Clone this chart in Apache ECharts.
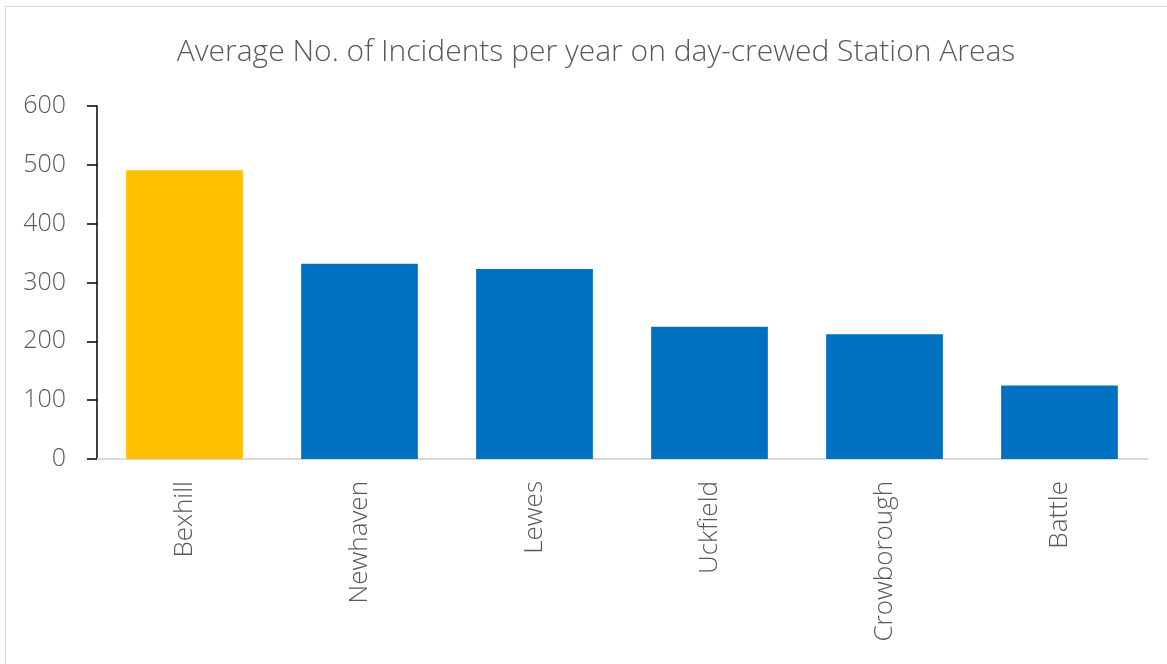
<!DOCTYPE html>
<html>
<head>
<meta charset="utf-8">
<script src="https://cdn.jsdelivr.net/npm/echarts@6/dist/echarts.min.js"></script>
<style>
html,body{margin:0;padding:0;background:#fff;}
#frame{position:absolute;left:5px;top:6px;width:1170px;height:670px;border:1px solid #d9d9d9;box-sizing:border-box;}
#chart{position:absolute;left:0;top:0;width:1167px;height:664px;}
</style>
</head>
<body>
<div id="frame"></div>
<div id="chart"></div>
<script>
const categories = ['Bexhill', 'Newhaven', 'Lewes', 'Uckfield', 'Crowborough', 'Battle'];
const incidents = [491, 332, 323, 225, 212, 125];
const highlighted = 'Bexhill';
const yTicks = [0, 100, 200, 300, 400, 500, 600];

const chart = echarts.init(document.getElementById('chart'), null, {renderer: 'canvas'});
const font = '"Open Sans", "Segoe UI", sans-serif';
chart.setOption({
  animation: false,
  title: {
    text: 'Average No. of Incidents per year on day-crewed Station Areas',
    left: 591, top: 32, textAlign: 'center',
    textStyle: {fontFamily: font, fontWeight: 300, fontSize: 30, color: '#595959'}
  },
  grid: {left: 97, right: 20, top: 106, bottom: 205},
  xAxis: {
    type: 'category',
    data: categories,
    axisLine: {lineStyle: {color: '#d9d9d9', width: 2}},
    axisTick: {show: false},
    axisLabel: {rotate: 90, margin: 22, fontFamily: font, fontWeight: 300, fontSize: 26, color: '#595959'}
  },
  yAxis: {
    type: 'value',
    min: yTicks[0], max: yTicks[yTicks.length - 1], interval: 100,
    axisLine: {show: true, lineStyle: {color: '#000', width: 1.5}},
    axisTick: {show: true, length: 10, lineStyle: {color: '#000', width: 1.5}},
    splitLine: {show: false},
    axisLabel: {margin: 31, fontFamily: font, fontWeight: 300, fontSize: 25, color: '#595959'}
  },
  series: [{
    type: 'bar',
    data: incidents,
    barCategoryGap: '33.3%',
    itemStyle: {
      color: p => categories[p.dataIndex] === highlighted ? '#FFC000' : '#0070C0'
    }
  }]
});
</script>
</body>
</html>
